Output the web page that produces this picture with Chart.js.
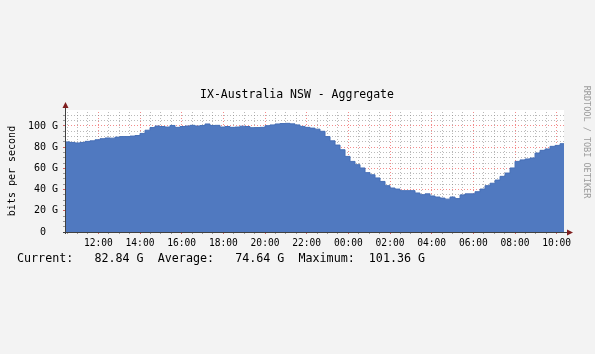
<!DOCTYPE html>
<html>
<head>
<meta charset="utf-8">
<script src="https://cdn.jsdelivr.net/npm/chart.js@4/dist/chart.umd.min.js"></script>
<style>
  html, body { margin: 0; padding: 0; background: #f3f3f3; }
  #wrap { width: 595px; height: 354px; }
</style>
</head>
<body>
<div id="wrap"><canvas id="chart" width="595" height="354"></canvas></div>
<script>
// traffic, Gbit/s, one sample every 0.24 h starting 10.4 h
const startHour = 10.4;
const stepHours = 0.24;
const trafficG = [
    85, 84.5, 84, 84.5, 85.5, 86, 87, 88, 88.7, 88.5,
    89.5, 90, 90, 90.5, 91, 93, 96, 98.5, 100, 99.5,
    99, 100.5, 98.7, 99.5, 100, 100.6, 100, 100.4, 101.9, 100.5,
    100.6, 99, 99.5, 98.7, 99, 99.8, 99.5, 98.4, 98.5, 98.7,
    100.3, 101, 101.9, 102.3, 102.5, 102, 101, 99.6, 98.7, 98,
    97, 95, 90, 86, 82, 77.6, 71.3, 66.6, 63.5, 60.4,
    56, 54, 51, 47.7, 43.7, 41.5, 40.5, 39, 39, 39,
    36.8, 35.2, 36, 34, 33, 32, 31, 33, 31.5, 35,
    36, 36, 38, 40.5, 43.7, 46, 49, 52.5, 55.6, 60.4,
    66.6, 68, 68.9, 69.8, 74.5, 77, 78.3, 80.8, 81.7, 83.3,
    83.8
];
const yTickLabels = { 0: '0  ', 20: '20 G', 40: '40 G', 60: '60 G', 80: '80 G', 100: '100 G' };
const chartTitle = 'IX-Australia NSW - Aggregate';
const yTitle = 'bits per second';
const watermark = 'RRDTOOL / TOBI OETIKER';
const legendLine = 'Current:   82.84 G  Average:   74.64 G  Maximum:  101.36 G';

const MONO = "'DejaVu Sans Mono', monospace";
const RED_GRID = 'rgba(240, 90, 90, 0.7)';
const GRAY_GRID = 'rgba(130, 130, 130, 0.55)';

const points = trafficG.map((v, i) => ({ x: startHour + i * stepHours, y: v }));

const isMul = (v, m) => Math.abs(v / m - Math.round(v / m)) < 1e-6;

const rrdDecor = {
    id: 'rrdDecor',
    beforeDraw(chart) {
        const { ctx, chartArea: a } = chart;
        ctx.save();
        ctx.fillStyle = '#f3f3f3';
        ctx.fillRect(0, 0, chart.width, chart.height);
        ctx.fillStyle = '#ffffff';
        ctx.fillRect(a.left, a.top - 2, a.right - a.left, a.bottom - a.top + 2);
        ctx.restore();
    },
    afterDraw(chart) {
        const { ctx, chartArea: a } = chart;
        ctx.save();
        // axis lines
        ctx.strokeStyle = '#404040';
        ctx.lineWidth = 1;
        ctx.beginPath();
        ctx.moveTo(a.left + 0.5, a.bottom + 2);
        ctx.lineTo(a.left + 0.5, a.top - 6);
        ctx.moveTo(a.left - 2, a.bottom + 0.5);
        ctx.lineTo(a.right + 4, a.bottom + 0.5);
        ctx.stroke();
        // arrows
        ctx.fillStyle = '#7f1d1d';
        ctx.beginPath();
        ctx.moveTo(a.left - 2.5, a.top - 4);
        ctx.lineTo(a.left + 3.5, a.top - 4);
        ctx.lineTo(a.left + 0.5, a.top - 10);
        ctx.closePath();
        ctx.fill();
        ctx.beginPath();
        ctx.moveTo(a.right + 3, a.bottom - 2.5);
        ctx.lineTo(a.right + 3, a.bottom + 3.5);
        ctx.lineTo(a.right + 9, a.bottom + 0.5);
        ctx.closePath();
        ctx.fill();

        ctx.fillStyle = '#000000';
        ctx.font = '11.5px ' + MONO;
        ctx.textAlign = 'center';
        ctx.textBaseline = 'middle';
        ctx.fillText(chartTitle, 297, 95);

        ctx.textAlign = 'left';
        ctx.font = '11.7px ' + MONO;
        ctx.fillText(legendLine, 17, 259);

        ctx.save();
        ctx.translate(12, 171);
        ctx.rotate(-Math.PI / 2);
        ctx.textAlign = 'center';
        ctx.font = '10px ' + MONO;
        ctx.fillText(yTitle, 0, 0);
        ctx.restore();

        ctx.save();
        ctx.translate(586, 142);
        ctx.rotate(Math.PI / 2);
        ctx.textAlign = 'center';
        ctx.fillStyle = '#9a9a9a';
        ctx.font = '8.5px ' + MONO;
        ctx.fillText(watermark, 0, 0);
        ctx.restore();
        ctx.restore();
    }
};

new Chart(document.getElementById('chart').getContext('2d'), {
    type: 'line',
    data: {
        datasets: [{
            data: points,
            stepped: true,
            fill: 'origin',
            backgroundColor: '#5079c0',
            borderColor: '#466fb6',
            borderWidth: 1,
            pointRadius: 0
        }]
    },
    options: {
        responsive: false,
        animation: false,
        events: [],
        layout: { padding: { left: 0, top: 112, right: 31, bottom: 100 } },
        plugins: { legend: { display: false }, tooltip: { enabled: false } },
        scales: {
            x: {
                type: 'linear',
                min: 10.4,
                max: 34.35,
                z: 1,
                afterFit(scale) {
                    scale.height = 22;
                    scale.paddingLeft = 0;
                    scale.paddingRight = 0;
                },
                border: { display: false, dash: [1, 2] },
                grid: {
                    color: c => (c.tick && isMul(c.tick.value, 2)) ? RED_GRID : GRAY_GRID,
                    tickColor: c => (c.tick && isMul(c.tick.value, 2)) ? '#d06060' : '#999999',
                    tickLength: 2,
                    lineWidth: 1
                },
                ticks: {
                    stepSize: 0.5,
                    includeBounds: false,
                    autoSkip: false,
                    maxRotation: 0,
                    padding: 4,
                    color: '#000000',
                    font: { family: MONO, size: 9.6 },
                    callback: v => {
                        if (!isMul(v, 2)) return '';
                        const h = Math.round(v) % 24;
                        return (h < 10 ? '0' : '') + h + ':00';
                    }
                }
            },
            y: {
                min: 0,
                max: 113.2,
                z: 1,
                afterFit(scale) {
                    scale.width = 65;
                    scale.paddingTop = 0;
                    scale.paddingBottom = 0;
                },
                border: { display: false, dash: [1, 2] },
                grid: {
                    color: c => (c.tick && isMul(c.tick.value, 20)) ? RED_GRID : GRAY_GRID,
                    tickColor: c => (c.tick && isMul(c.tick.value, 20)) ? '#d06060' : '#999999',
                    tickLength: 2,
                    lineWidth: 1
                },
                ticks: {
                    stepSize: 5,
                    includeBounds: false,
                    autoSkip: false,
                    padding: 5,
                    color: '#000000',
                    font: { family: MONO, size: 10 },
                    callback: v => yTickLabels[Math.round(v)] !== undefined && isMul(v, 20) ? yTickLabels[Math.round(v)] : ''
                }
            }
        }
    },
    plugins: [rrdDecor]
});
</script>
</body>
</html>
